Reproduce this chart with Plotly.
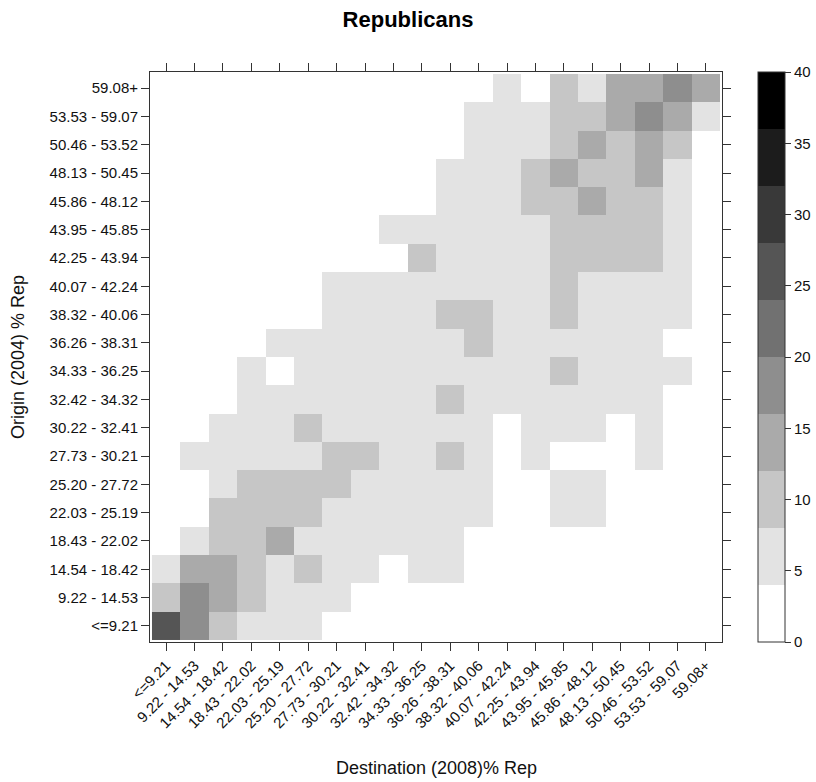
import plotly.graph_objects as go

# Vote-share bins (percent Republican), lowest to highest
bins = [
    "<=9.21", "9.22 - 14.53", "14.54 - 18.42", "18.43 - 22.02", "22.03 - 25.19",
    "25.20 - 27.72", "27.73 - 30.21", "30.22 - 32.41", "32.42 - 34.32", "34.33 - 36.25",
    "36.26 - 38.31", "38.32 - 40.06", "40.07 - 42.24", "42.25 - 43.94", "43.95 - 45.85",
    "45.86 - 48.12", "48.13 - 50.45", "50.46 - 53.52", "53.53 - 59.07", "59.08+",
]

# Counts of movers: one row per origin bin (2004), listed from the highest bin
# down to the lowest; columns are destination bins (2008), lowest to highest.
origin_rows = bins[::-1]
flows = [
    [0, 0, 0, 0, 0, 0, 0, 0, 0, 0, 0, 1, 5, 3, 10, 6, 14, 15, 18, 13],
    [0, 0, 0, 0, 0, 0, 0, 0, 0, 0, 2, 5, 6, 5, 10, 11, 14, 19, 15, 7],
    [0, 0, 0, 0, 0, 0, 0, 0, 0, 1, 3, 6, 6, 7, 11, 13, 10, 14, 9, 2],
    [0, 0, 0, 0, 0, 0, 0, 0, 0, 2, 5, 6, 7, 9, 14, 11, 10, 15, 7, 1],
    [0, 0, 0, 0, 0, 0, 0, 0, 0, 2, 6, 7, 7, 10, 11, 13, 10, 11, 6, 1],
    [0, 0, 0, 0, 0, 0, 0, 1, 5, 5, 6, 6, 7, 7, 10, 10, 11, 9, 5, 1],
    [0, 0, 0, 0, 0, 0, 0, 2, 3, 9, 6, 7, 7, 7, 10, 11, 10, 9, 6, 1],
    [0, 0, 0, 0, 0, 0, 5, 5, 6, 6, 7, 6, 7, 7, 9, 7, 6, 6, 5, 0],
    [0, 0, 0, 0, 0, 1, 5, 6, 6, 7, 10, 9, 7, 7, 9, 7, 6, 5, 5, 0],
    [0, 0, 0, 0, 5, 5, 6, 6, 7, 7, 7, 10, 7, 7, 6, 6, 5, 5, 2, 0],
    [0, 0, 0, 5, 3, 6, 6, 7, 7, 7, 7, 7, 6, 6, 9, 6, 6, 5, 5, 0],
    [0, 0, 1, 5, 6, 6, 7, 7, 7, 7, 9, 7, 6, 6, 6, 5, 5, 5, 1, 0],
    [0, 0, 5, 6, 6, 9, 7, 7, 7, 7, 6, 6, 3, 5, 5, 5, 3, 5, 1, 0],
    [0, 5, 6, 6, 7, 7, 10, 9, 7, 6, 9, 5, 2, 5, 3, 3, 3, 5, 1, 0],
    [0, 2, 6, 10, 11, 10, 9, 7, 7, 6, 6, 5, 2, 3, 5, 5, 2, 1, 0, 0],
    [0, 3, 9, 11, 11, 10, 7, 7, 6, 6, 5, 5, 2, 2, 5, 5, 1, 0, 0, 0],
    [1, 5, 10, 11, 13, 7, 7, 6, 6, 5, 5, 3, 1, 1, 1, 1, 0, 0, 0, 0],
    [5, 14, 15, 10, 7, 9, 6, 5, 3, 5, 5, 2, 1, 0, 0, 0, 0, 0, 0, 0],
    [10, 18, 14, 10, 7, 6, 5, 3, 2, 1, 1, 0, 0, 0, 0, 0, 0, 0, 0, 0],
    [26, 17, 10, 7, 6, 5, 3, 2, 1, 0, 0, 0, 0, 0, 0, 0, 0, 0, 0, 0],
]

# Colour key: 10 grey bands of width 4 from 0 to 40
z_min, z_max = 0, 40
band_greys = [255, 227, 198, 170, 142, 113, 85, 57, 28, 0]
key_ticks = [0, 5, 10, 15, 20, 25, 30, 35, 40]

n = len(band_greys)
colorscale = []
for i, g in enumerate(band_greys):
    c = f"rgb({g},{g},{g})"
    colorscale.append([i / n, c])
    colorscale.append([(i + 1) / n, c])

FONT = "Liberation Sans, Arial, Helvetica, sans-serif"
LINE = "#333333"
TEXT = "#111111"

W, H = 816, 782
ML, MR, MT, MB = 150, 94, 72, 140
plot_w = W - ML - MR
plot_h = H - MT - MB

fig = go.Figure(
    go.Heatmap(
        x=bins,
        y=origin_rows,
        z=flows,
        zmin=z_min,
        zmax=z_max,
        colorscale=colorscale,
        colorbar=dict(
            thickness=27,
            thicknessmode="pixels",
            len=1,
            lenmode="fraction",
            y=0.5,
            yanchor="middle",
            x=1 + 36 / plot_w,
            xanchor="left",
            xpad=0,
            ypad=0,
            outlinewidth=1,
            outlinecolor=LINE,
            ticks="outside",
            ticklen=6,
            tickcolor=LINE,
            tickvals=key_ticks,
            ticktext=[str(v) for v in key_ticks],
            tickfont=dict(family=FONT, size=15, color=TEXT),
        ),
    )
)

axis_common = dict(
    type="category",
    showline=True,
    linecolor=LINE,
    linewidth=1,
    mirror="ticks",
    ticks="outside",
    ticklen=8,
    tickcolor=LINE,
    showgrid=False,
    zeroline=False,
    tickfont=dict(family=FONT, size=15, color=TEXT),
)

fig.update_xaxes(
    **axis_common,
    categoryorder="array",
    categoryarray=bins,
    range=[-0.57, len(bins) - 0.43],
    tickangle=-45,
)
fig.update_yaxes(
    **axis_common,
    categoryorder="array",
    categoryarray=bins,
    range=[-0.57, len(bins) - 0.43],
)

fig.update_layout(
    width=W,
    height=H,
    margin=dict(l=ML, r=MR, t=MT, b=MB, autoexpand=False),
    paper_bgcolor="white",
    plot_bgcolor="white",
    font=dict(family=FONT, color=TEXT),
    title=dict(
        text="<b>Republicans</b>",
        x=0.5,
        xanchor="center",
        y=1 - 19 / H,
        yanchor="middle",
        font=dict(family=FONT, size=22, color="black"),
    ),
    annotations=[
        dict(
            text="Destination (2008)% Rep",
            xref="paper", yref="paper",
            x=0.5, y=-(768 - MT - plot_h) / plot_h,
            xanchor="center", yanchor="middle",
            showarrow=False,
            font=dict(family=FONT, size=18, color=TEXT),
        ),
        dict(
            text="Origin (2004) % Rep",
            xref="paper", yref="paper",
            x=-(ML - 18) / plot_w, y=0.5,
            xanchor="center", yanchor="middle",
            textangle=-90,
            showarrow=False,
            font=dict(family=FONT, size=18, color=TEXT),
        ),
    ],
)

fig.write_html("out.html")
